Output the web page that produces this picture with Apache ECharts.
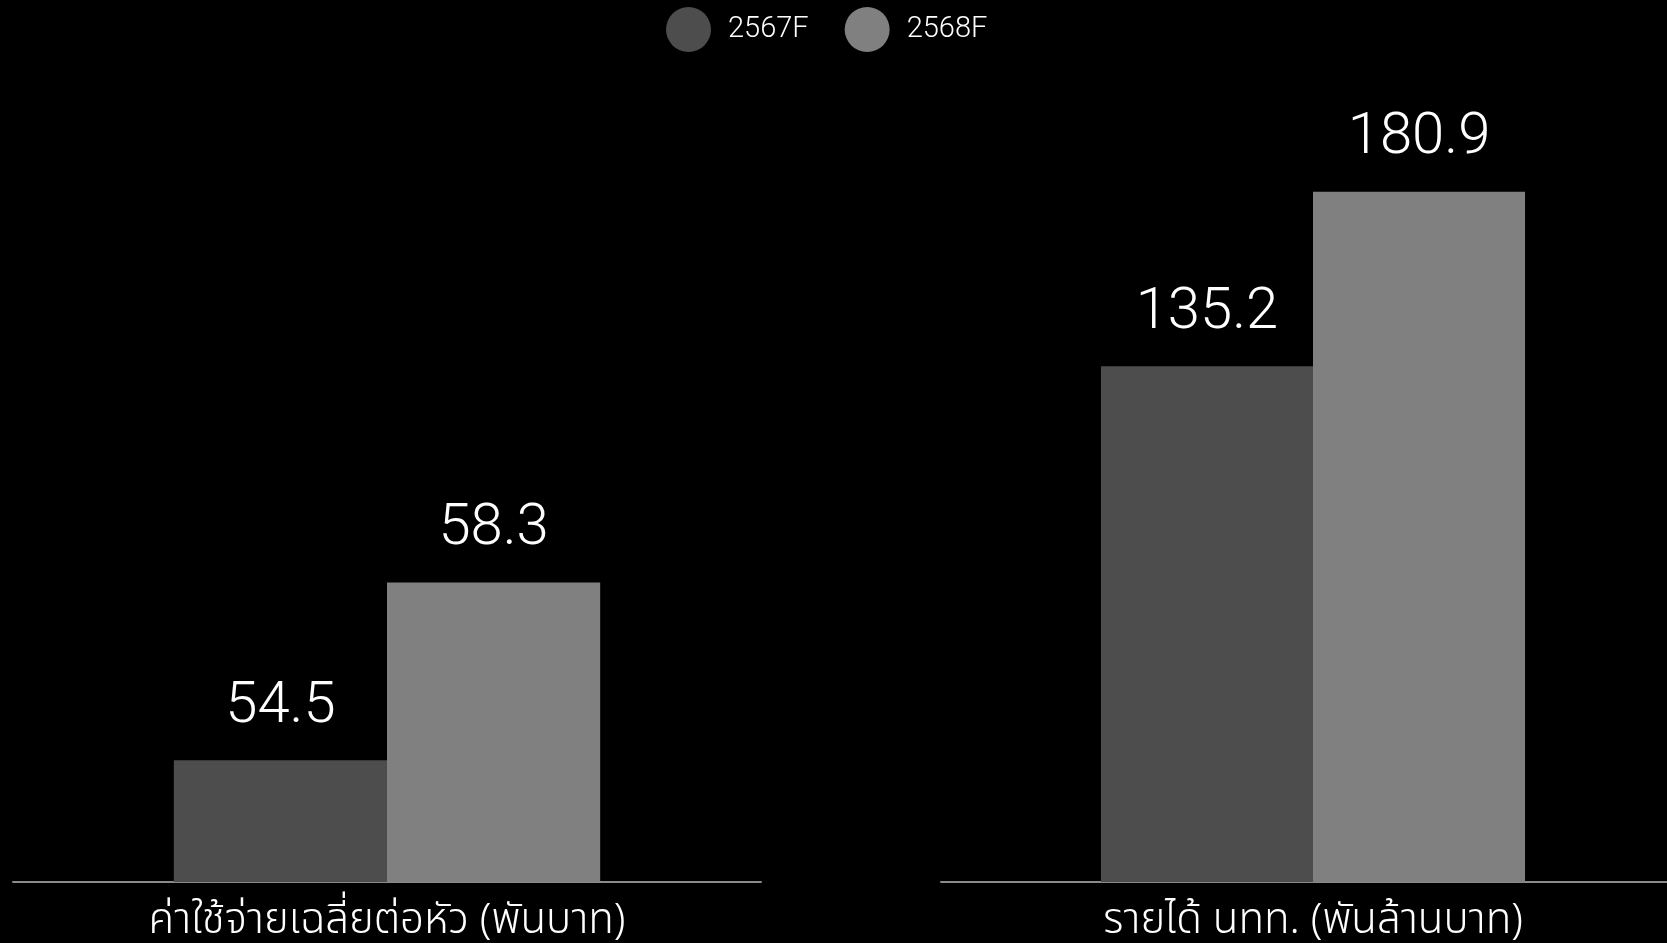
<!DOCTYPE html>
<html>
<head>
<meta charset="utf-8">
<script src="https://cdn.jsdelivr.net/npm/echarts@6/dist/echarts.min.js"></script>
<style>
html,body{margin:0;padding:0;background:#000;}
#chart{width:1667px;height:943px;}
</style>
</head>
<body>
<div id="chart"></div>
<script>
const categories = ['ค่าใช้จ่ายเฉลี่ยต่อหัว (พันบาท)', 'รายได้ นทท. (พันล้านบาท)'];
const seriesNames = ['2567F', '2568F'];
const values2567 = [54.5, 135.2];
const values2568 = [58.3, 180.9];
const axisMin = [51.9, 0];
const axisMax = [68.2, 200];

const NUMFONT = 'Roboto, "Noto Sans", sans-serif';
const THAIFONT = '"Noto Sans Thai", "Noto Sans", sans-serif';
const colors = ['#4d4d4d', '#808080'];
const grids = [
  {left: 13, width: 748, top: 119, height: 763, outerBoundsMode: 'none'},
  {left: 941, width: 744, top: 119, height: 763, outerBoundsMode: 'none'}
];
const chart = echarts.init(document.getElementById('chart'));
const xAxes = [], yAxes = [], series = [];
categories.forEach((c, i) => {
  xAxes.push({
    type: 'category', gridIndex: i, data: [c],
    axisLine: {show: true, lineStyle: {color: '#8a8a8a', width: 2}},
    axisTick: {show: false},
    axisLabel: {color: '#fff', fontSize: 42, fontWeight: 300, fontFamily: THAIFONT, margin: 22}
  });
  yAxes.push({
    type: 'value', gridIndex: i, min: axisMin[i], max: axisMax[i],
    show: false, splitLine: {show: false}
  });
  [values2567, values2568].forEach((vals, s) => {
    series.push({
      type: 'bar', name: seriesNames[s], xAxisIndex: i, yAxisIndex: i,
      data: [vals[i]], barGap: '0%', barCategoryGap: '43%',
      itemStyle: {color: colors[s]},
      label: {show: true, position: 'top', distance: 24, color: '#fff',
              fontSize: 58, fontWeight: 300, fontFamily: NUMFONT},
      silent: true
    });
  });
});
chart.setOption({
  backgroundColor: '#000',
  animation: false,
  color: colors,
  legend: {
    data: seriesNames, left: 661, top: 2, icon: 'circle',
    itemWidth: 45, itemHeight: 45, itemGap: 36,
    textStyle: {color: '#fff', fontSize: 29, fontWeight: 300, fontFamily: NUMFONT, padding: [0, 0, 0, 12]}
  },
  grid: grids,
  xAxis: xAxes,
  yAxis: yAxes,
  series: series
});
</script>
</body>
</html>
